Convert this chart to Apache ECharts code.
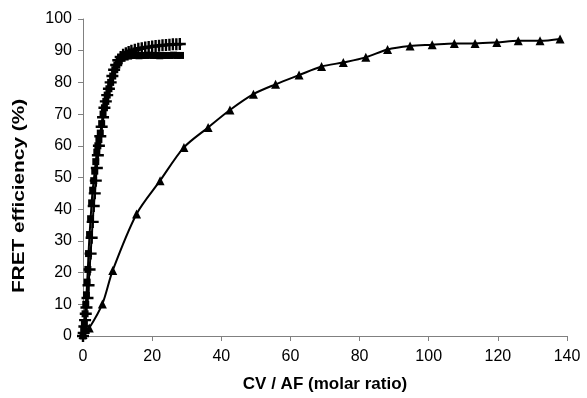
<!DOCTYPE html>
<html>
<head>
<meta charset="utf-8">
<script src="https://cdn.jsdelivr.net/npm/echarts@6/dist/echarts.min.js"></script>
<style>
  html, body { margin: 0; padding: 0; background: #fff; }
  #chart { width: 587px; height: 398px; }
</style>
</head>
<body>
<div id="chart"></div>
<script>
// squares series
const sqX = [0, 0.2, 0.4, 0.6, 0.8, 1.0, 1.2, 1.4, 1.6, 1.9, 2.2, 2.5, 2.8, 3.1, 3.4, 3.7, 4.0, 4.3, 4.6, 5.0, 5.4, 5.8, 6.2, 6.6, 7.0, 7.5, 8.0, 8.6, 9.2, 9.8, 10.5, 11.3, 12.2, 13.2, 14.2, 15.2, 16.2, 17.2, 18.2, 19.2, 20.2, 21.2, 22.2, 23.2, 24.2, 25.2, 26.2, 27.2, 28.2];
const sqY = [0, 2, 4, 7, 10, 13, 17, 21, 26, 32, 37, 42, 46, 49, 52, 55, 58, 60, 62, 64, 67, 70, 72, 74, 76, 78, 80, 82, 84, 85.5, 86.8, 87.6, 88, 88.3, 88.5, 88.5, 88.4, 88.5, 88.5, 88.6, 88.5, 88.5, 88.4, 88.5, 88.5, 88.5, 88.6, 88.5, 88.5];

// plus series
const plX = [0, 0.2, 0.4, 0.6, 0.8, 1.0, 1.3, 1.6, 1.9, 2.2, 2.5, 2.8, 3.1, 3.4, 3.7, 4.0, 4.3, 4.6, 5.0, 5.4, 5.8, 6.2, 6.6, 7.0, 7.5, 8.0, 8.5, 9.0, 9.6, 10.2, 10.9, 11.6, 12.4, 13.2, 14.0, 15.0, 16.0, 17.0, 18.0, 19.0, 20.0, 21.0, 22.0, 23.0, 24.0, 25.0, 26.0, 27.0, 28.0];
const plY = [0, 1, 3, 5, 7, 9, 12, 16, 21, 26, 31, 36, 41, 45, 49, 53, 57, 60, 63, 66, 69, 72, 74, 76, 78, 80, 82, 84, 85.5, 87, 88, 88.7, 89.2, 89.6, 90, 90.3, 90.6, 90.8, 91, 91.2, 91.3, 91.5, 91.6, 91.7, 91.8, 91.9, 92, 92, 92.1];

// triangles series
const triX = [0, 1.8, 5.6, 8.6, 15.5, 22.3, 29.2, 36.2, 42.5, 49.3, 55.7, 62.5, 69.0, 75.3, 81.8, 88.1, 94.6, 101.0, 107.4, 113.4, 119.7, 125.9, 132.2, 138.0];
const triY = [0.5, 2.5, 10.1, 20.7, 38.5, 49, 59.5, 65.8, 71.3, 76.3, 79.4, 82.3, 85.0, 86.3, 87.9, 90.4, 91.5, 91.9, 92.3, 92.3, 92.6, 93.1, 93.1, 93.7];

const zip = (xs, ys) => xs.map((x, i) => [x, ys[i]]);
const plusPath = "path://M4,0h2v4h4v2h-4v4h-2v-4h-4v-2h4z";
const fontFamily = "Liberation Sans, Arial, sans-serif";

const chart = echarts.init(document.getElementById("chart"), null, { renderer: "canvas" });

const axisFont = { fontFamily, fontSize: 16, color: "#000" };

chart.setOption({
  animation: false,
  grid: { left: 83, right: 20, top: 19, bottom: 62 },
  // y title is stretched along its length in the original, so draw it as a scaled text
  graphic: [
    {
      type: "text",
      x: 20,
      y: 196,
      rotation: Math.PI / 2,
      scaleX: 1.3,
      style: {
        text: "FRET efficiency (%)",
        font: "bold 16px " + fontFamily,
        fill: "#000",
        align: "center",
        verticalAlign: "middle",
      },
    },
  ],
  xAxis: {
    type: "value",
    min: 0,
    max: 140,
    interval: 20,
    splitLine: { show: false },
    axisLine: { lineStyle: { color: "#808080", width: 1 } },
    axisTick: { show: true, length: 5, lineStyle: { color: "#808080" } },
    axisLabel: { ...axisFont, margin: 13 },
    name: "CV / AF (molar ratio)",
    nameLocation: "middle",
    nameGap: 40,
    nameTextStyle: { ...axisFont, fontSize: 17, fontWeight: "bold" },
  },
  yAxis: {
    type: "value",
    min: 0,
    max: 100,
    interval: 10,
    splitLine: { show: false },
    axisLine: { show: true, lineStyle: { color: "#808080", width: 1 } },
    axisTick: { show: true, length: 5, lineStyle: { color: "#808080" } },
    axisLabel: { ...axisFont, margin: 11 },
  },
  series: [
    {
      type: "line",
      data: zip(sqX, sqY),
      symbol: "rect",
      symbolSize: 7,
      smooth: 0.3,
      lineStyle: { color: "#000", width: 2 },
      itemStyle: { color: "#000" },
    },
    {
      type: "line",
      data: zip(plX, plY),
      symbol: plusPath,
      symbolSize: 12,
      smooth: 0.3,
      lineStyle: { color: "#000", width: 2 },
      itemStyle: { color: "#000" },
    },
    {
      type: "line",
      data: zip(triX, triY),
      symbol: "triangle",
      symbolSize: 9,
      smooth: 0.3,
      lineStyle: { color: "#000", width: 2 },
      itemStyle: { color: "#000" },
    },
  ],
});
</script>
</body>
</html>
